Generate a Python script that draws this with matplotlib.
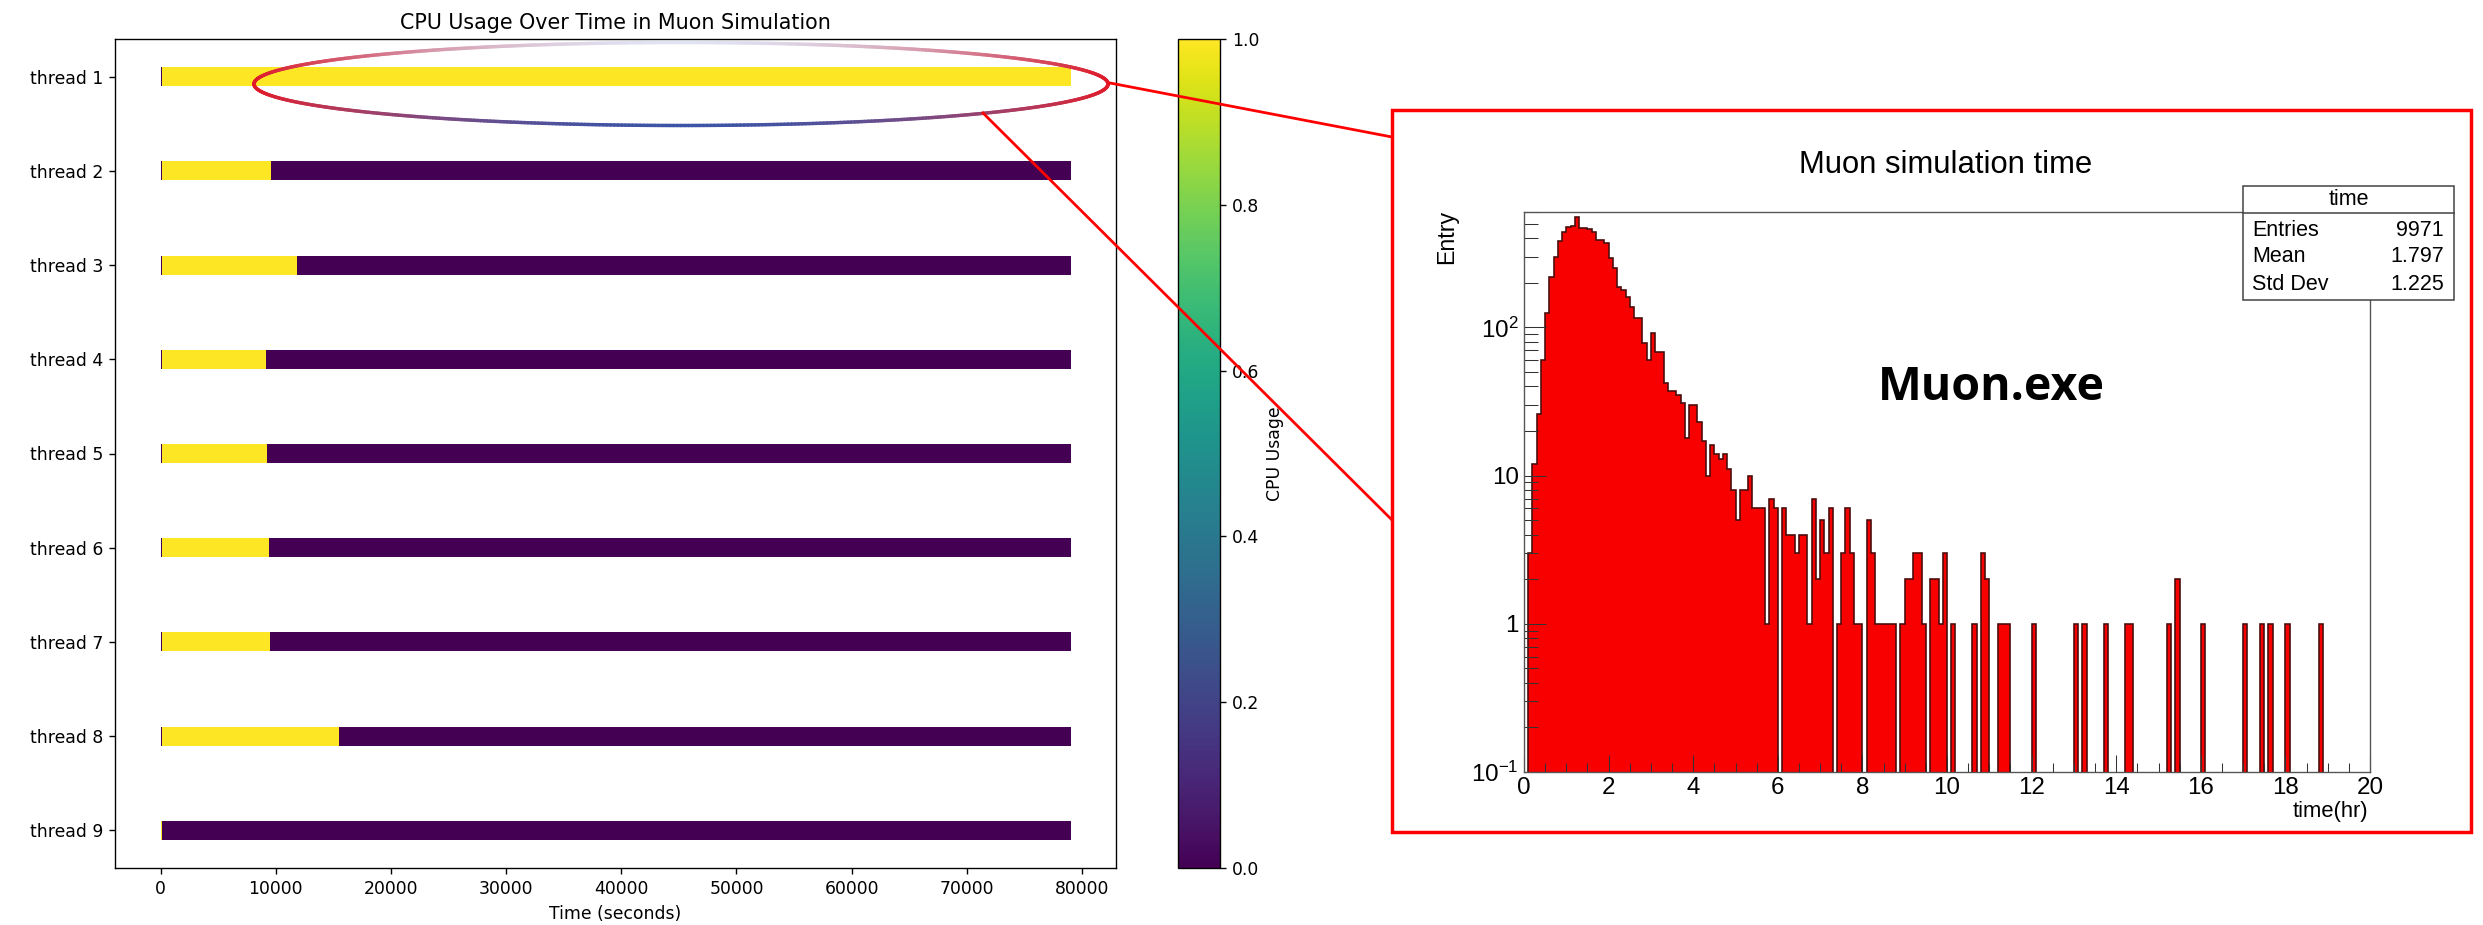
import numpy as np
import matplotlib
matplotlib.use("Agg")
import matplotlib.pyplot as plt
from matplotlib.collections import LineCollection
from matplotlib.patches import Rectangle
from matplotlib.colors import Normalize
import matplotlib.cm as cm
from matplotlib.ticker import FixedLocator, MultipleLocator, NullFormatter

# ---------------- data ----------------
threads = ["thread 1", "thread 2", "thread 3", "thread 4", "thread 5",
           "thread 6", "thread 7", "thread 8", "thread 9"]
run_end = 79000                      # seconds
first_sample_end = 150               # first (tiny) sample interval
first_usage = [0, 0, 0, 0, 0, 0, 0, 0, 1]
busy_until = [79000, 9620, 11810, 9190, 9280, 9450, 9540, 15460, 0]

hist_lo, hist_hi, hist_bin = 0.0, 20.0, 0.1
hist_counts = [
    0, 3, 12, 26, 60, 125, 220, 300, 385, 440,
    475, 480, 553, 470, 470, 460, 440, 390, 387, 370,
    295, 250, 187, 180, 160, 137, 115, 115, 79, 60,
    92, 68, 68, 42, 37, 37, 35, 31, 18, 30,
    30, 23, 17, 10, 16, 14, 13, 14, 11, 8,
    5, 8, 8, 10, 6, 6, 6, 1, 7, 6,
    0, 6, 4, 4, 3, 4, 4, 1, 7, 2,
    5, 3, 6, 0, 1, 3, 6, 3, 1, 1,
    0, 5, 3, 1, 1, 1, 1, 1, 0, 1,
    2, 2, 3, 3, 1, 0, 2, 2, 1, 3,
    0, 1, 0, 0, 0, 0, 1, 0, 3, 2,
    0, 0, 1, 1, 1, 0, 0, 0, 0, 0,
    1, 0, 0, 0, 0, 0, 0, 0, 0, 0,
    1, 0, 1, 0, 0, 0, 0, 1, 0, 0,
    0, 0, 1, 1, 0, 0, 0, 0, 0, 0,
    0, 0, 1, 0, 2, 0, 0, 0, 0, 0,
    1, 0, 0, 0, 0, 0, 0, 0, 0, 0,
    1, 0, 0, 0, 1, 0, 1, 0, 0, 0,
    1, 0, 0, 0, 0, 0, 0, 0, 1, 0,
    0, 0, 0, 0, 0, 0, 0, 0, 0, 0,
]
hist_title = "Muon simulation time"
hist_xlabel = "time(hr)"
hist_ylabel = "Entry"
hist_xticks = [0, 2, 4, 6, 8, 10, 12, 14, 16, 18, 20]
hist_yticks = [0.1, 1, 10, 100]
hist_yticklabels = ["$10^{-1}$", "1", "10", "$10^{2}$"]
stats_title = "time"
stats_labels = ["Entries", "Mean", "Std Dev"]
stats_values = ["9971", "1.797", "1.225"]
program_name = "Muon.exe"

# ---------------- figure ----------------
plt.rcParams["mathtext.fontset"] = "custom"
plt.rcParams["mathtext.rm"] = "Liberation Sans"
plt.rcParams["mathtext.it"] = "Liberation Sans:italic"

DPI = 124
W, H = 2483, 925
fig = plt.figure(figsize=(W / DPI, H / DPI), dpi=DPI)
fig.patch.set_facecolor("white")


def fr(x0, y0, x1, y1):
    return [x0 / W, 1 - y1 / H, (x1 - x0) / W, (y1 - y0) / H]


# ---- left: CPU usage timeline ----
ax = fig.add_axes(fr(115, 39, 1116, 868))
cmap = plt.get_cmap("viridis")
norm = Normalize(0, 1)
for i, name in enumerate(threads):
    y = i + 1
    segs = [(0, first_sample_end, first_usage[i])]
    start = first_sample_end
    if busy_until[i] > first_sample_end:
        segs.append((first_sample_end, busy_until[i], 1.0))
        start = busy_until[i]
    if start < run_end:
        segs.append((start, run_end, 0.0))
    ax.broken_barh([(s, e - s) for s, e, _ in segs], (y - 0.1, 0.2),
                   facecolors=[cmap(norm(v)) for _, _, v in segs],
                   edgecolor="none")
ax.set_yticks(range(1, len(threads) + 1))
ax.set_yticklabels(threads)
ax.set_ylim(len(threads) + 0.4, 0.6)
ax.set_xlim(-0.05 * run_end, 1.05 * run_end)
ax.set_xlabel("Time (seconds)")
ax.set_title("CPU Usage Over Time in Muon Simulation")

cax = fig.add_axes(fr(1178, 39, 1220, 868))
sm = cm.ScalarMappable(norm=norm, cmap=cmap)
fig.colorbar(sm, cax=cax, label="CPU Usage")

# ---- right: ROOT-style histogram ----
hfont = "Liberation Sans"
hax = fig.add_axes(fr(1524, 212, 2370, 772))
edges = np.linspace(hist_lo, hist_hi, len(hist_counts) + 1)
counts = np.array(hist_counts, dtype=float)
vals = np.where(counts > 0, counts, 1e-3)
hax.stairs(vals, edges, baseline=1e-3, fill=True, color="#f80000", zorder=1)
hax.stairs(vals, edges, baseline=1e-3, color="#4a0c0c", lw=0.95, zorder=1.5)
hax.set_yscale("log")
hax.set_xlim(hist_lo, hist_hi)
hax.set_ylim(0.1, 600)
hax.yaxis.set_major_locator(FixedLocator(hist_yticks))
hax.set_yticklabels(hist_yticklabels, family=hfont, fontsize=14)
minors = [m * d for d in [0.1, 1, 10, 100] for m in range(2, 10)]
hax.yaxis.set_minor_locator(FixedLocator(minors))
hax.yaxis.set_minor_formatter(NullFormatter())
hax.xaxis.set_major_locator(FixedLocator(hist_xticks))
hax.set_xticklabels([str(t) for t in hist_xticks], family=hfont, fontsize=14)
hax.xaxis.set_minor_locator(MultipleLocator(0.5))
hax.tick_params(which="both", direction="in", top=False, right=False,
                color="#333333", width=0.6)
hax.tick_params(axis="y", which="major", length=13, pad=3)
hax.tick_params(axis="y", which="minor", length=8)
hax.tick_params(axis="x", which="major", length=10, pad=3)
hax.tick_params(axis="x", which="minor", length=5)
for sp in hax.spines.values():
    sp.set_color("#555555")
    sp.set_linewidth(0.8)

# ---- overlay in pixel coordinates ----
ov = fig.add_axes([0, 0, 1, 1])
ov.set_xlim(0, W)
ov.set_ylim(H, 0)
ov.axis("off")
ov.set_zorder(10)
ov.patch.set_alpha(0)

# gradient ellipse around thread 1
cx, cy, a, b = 681, 84, 427, 41.5
t = np.linspace(0, 2 * np.pi, 721)
ex, ey = cx + a * np.cos(t), cy + b * np.sin(t)
pts = np.column_stack([ex, ey]).reshape(-1, 1, 2)
segments = np.concatenate([pts[:-1], pts[1:]], axis=1)
tm = 0.5 * (t[:-1] + t[1:])
u, v = np.cos(tm), np.sin(tm)
red = np.array([0.88, 0.10, 0.16])
blue = np.array([0.24, 0.33, 0.65])
pale = np.array([0.88, 0.89, 0.95])
mid = pale + (blue - pale) * ((v + 1) / 2)[:, None]
w = (np.abs(u) ** 2)[:, None]
cols = w * red + (1 - w) * mid
ov.add_collection(LineCollection(segments, colors=cols, linewidths=2.0,
                                 capstyle="round"))

# connector lines and zoom box
ov.plot([1110, 1392], [83, 137], color="red", lw=1.6)
ov.plot([983, 1392], [113, 520], color="red", lw=1.6)
ov.add_patch(Rectangle((1392, 110), 2471 - 1392, 832 - 110, fill=False,
                       edgecolor="red", lw=2.0))

# histogram texts
ov.text(1946, 165, hist_title, ha="center", va="center", fontsize=18,
        family=hfont)
ov.text(1447, 237, hist_ylabel, ha="center", va="center", rotation=90,
        fontsize=13.4, family=hfont)
ov.text(2368, 811, hist_xlabel, ha="right", va="center", fontsize=12.8,
        family=hfont)
ov.text(1991, 387, program_name, ha="center", va="center", fontsize=27,
        weight="bold", family="Open Sans")

# stats box
bx0, by0, bx1, by1, hy = 2243, 186, 2454, 300, 213
ov.add_patch(Rectangle((bx0, by0), bx1 - bx0, by1 - by0, facecolor="white",
                       edgecolor="#444444", lw=0.9))
ov.plot([bx0, bx1], [hy, hy], color="#444444", lw=0.9)
ov.text((bx0 + bx1) / 2, (by0 + hy) / 2, stats_title, ha="center",
        va="center", fontsize=12.5, family=hfont)
row_y = [230, 257, 285]
for yy, lab, val in zip(row_y, stats_labels, stats_values):
    ov.text(bx0 + 9, yy, lab, ha="left", va="center", fontsize=12.5,
            family=hfont)
    ov.text(bx1 - 10, yy, val, ha="right", va="center", fontsize=12.5,
            family=hfont)

fig.savefig("out.png", dpi=DPI)
